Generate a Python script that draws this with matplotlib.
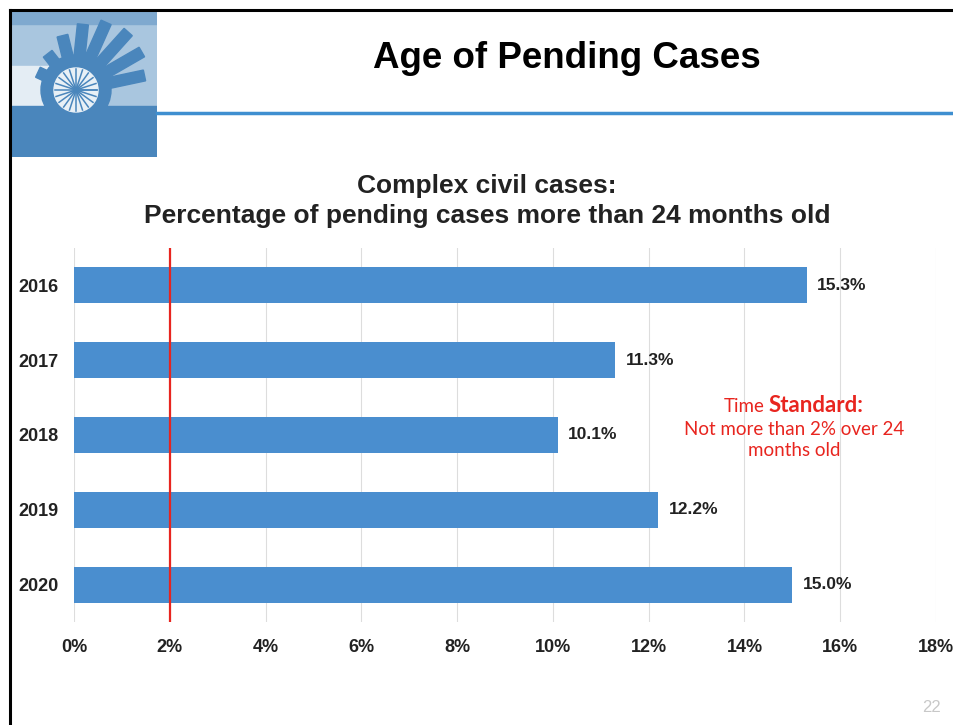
import numpy as np
import matplotlib.pyplot as plt
from matplotlib.patches import Rectangle, Circle, Polygon

years = ['2016', '2017', '2018', '2019', '2020']
pct = [15.3, 11.3, 10.1, 12.2, 15.0]
pct_labels = ['15.3%', '11.3%', '10.1%', '12.2%', '15.0%']
xticks = [0, 2, 4, 6, 8, 10, 12, 14, 16, 18]
standard = 2

W, H = 954, 725
bar_color = '#4a8ecf'
red = '#e8251f'

def fx(px):
    return px / W

def fy(py):
    return 1 - py / H

fig = plt.figure(figsize=(W / 100, H / 100), dpi=100)
fig.patch.set_facecolor('white')
plt.rcParams['font.family'] = ['Liberation Sans', 'DejaVu Sans']

# slide frame
fig.add_artist(plt.Line2D([fx(10), 1], [fy(10), fy(10)], color='black', lw=2.2))
fig.add_artist(plt.Line2D([fx(10), fx(10)], [fy(10), 0], color='black', lw=2.2))
fig.add_artist(plt.Line2D([fx(157), 1], [fy(113), fy(113)], color='#3f8fd0', lw=2.5))

# logo (rough water wheel)
logo_blue = '#4a86bc'
lax = fig.add_axes([fx(11), fy(157), fx(146), fy(11) - fy(157)])
lax.set_xlim(0, 146)
lax.set_ylim(0, 146)
lax.axis('off')
lax.add_patch(Rectangle((0, 0), 146, 146, color='#a9c6df'))
lax.add_patch(Rectangle((0, 51), 60, 40, color='#e4edf4'))
lax.add_patch(Rectangle((0, 133), 146, 13, color='#7fa9cf'))
lax.add_patch(Rectangle((0, 0), 146, 51, color=logo_blue))
cx, cy = 65, 67
ray_angles = [12, 30, 48, 66, 84, 104, 128, 155]
ray_lengths = [70, 76, 78, 74, 66, 56, 46, 42]
for ang, ln in zip(ray_angles, ray_lengths):
    a = np.radians(ang)
    d = np.array([np.cos(a), np.sin(a)])
    n = np.array([-d[1], d[0]]) * 5.5
    p1 = np.array([cx, cy]) + d * 30
    p2 = np.array([cx, cy]) + d * ln
    lax.add_patch(Polygon([p1 + n, p1 - n, p2 - n, p2 + n], color=logo_blue))
lax.add_patch(Circle((cx, cy), 35, color=logo_blue))
lax.add_patch(Circle((cx, cy), 22, color='#e8f0f6'))
for ang in np.linspace(0, 360, 21):
    a = np.radians(ang)
    lax.plot([cx, cx + 21 * np.cos(a)], [cy, cy + 21 * np.sin(a)], color=logo_blue, lw=1.1)
lax.add_patch(Circle((cx, cy), 3, color='#9bb9d6'))

fig.text(fx(567), fy(59), 'Age of Pending Cases', ha='center', va='center',
         fontsize=26.5, fontweight='bold')
fig.text(fx(487), fy(201), 'Complex civil cases:\nPercentage of pending cases more than 24 months old',
         ha='center', va='center', fontsize=19, fontweight='bold', linespacing=1.3,
         color='#222222')

# chart
ax = fig.add_axes([fx(74), fy(622), fx(936) - fx(74), fy(248) - fy(622)])
y = np.arange(len(years))
ax.barh(y, pct, height=0.48, color=bar_color, zorder=2)
ax.set_ylim(len(years) - 0.5, -0.5)
ax.set_xlim(0, 18)
ax.set_xticks(xticks)
ax.set_xticklabels([f'{t}%' for t in xticks], fontsize=13, fontweight='bold', color='#222222')
ax.set_yticks(y)
ax.set_yticklabels(years, fontsize=13, fontweight='bold', color='#222222')
ax.tick_params(axis='x', length=0, pad=12)
ax.tick_params(axis='y', length=0, pad=0)
for lbl in ax.get_yticklabels():
    lbl.set_horizontalalignment('left')
    lbl.set_x(-56 / (936 - 74))
ax.grid(axis='x', color='#dddddd', lw=0.8, zorder=0)
for s in ax.spines.values():
    s.set_visible(False)
ax.axvline(standard, color=red, lw=1.6, zorder=3)

for yi, v, t in zip(y, pct, pct_labels):
    ax.text(v + 0.22, yi, t, va='center', ha='left', fontsize=12.5, fontweight='bold', color='#222222')

fig.text(fx(765), fy(406), 'Time', ha='right', va='center', fontsize=13.5, color=red, family='Lato')
fig.text(fx(769), fy(405), 'Standard:', ha='left', va='center', fontsize=16, color=red,
         family='Lato', fontweight='bold')
fig.text(fx(794), fy(440), 'Not more than 2% over 24\nmonths old', ha='center', va='center',
         fontsize=13.5, color=red, family='Lato', linespacing=1.25)

fig.text(fx(932), fy(707), '22', ha='center', va='center', fontsize=12, color='#c8c8c8')

fig.savefig('out.png', dpi=100)
